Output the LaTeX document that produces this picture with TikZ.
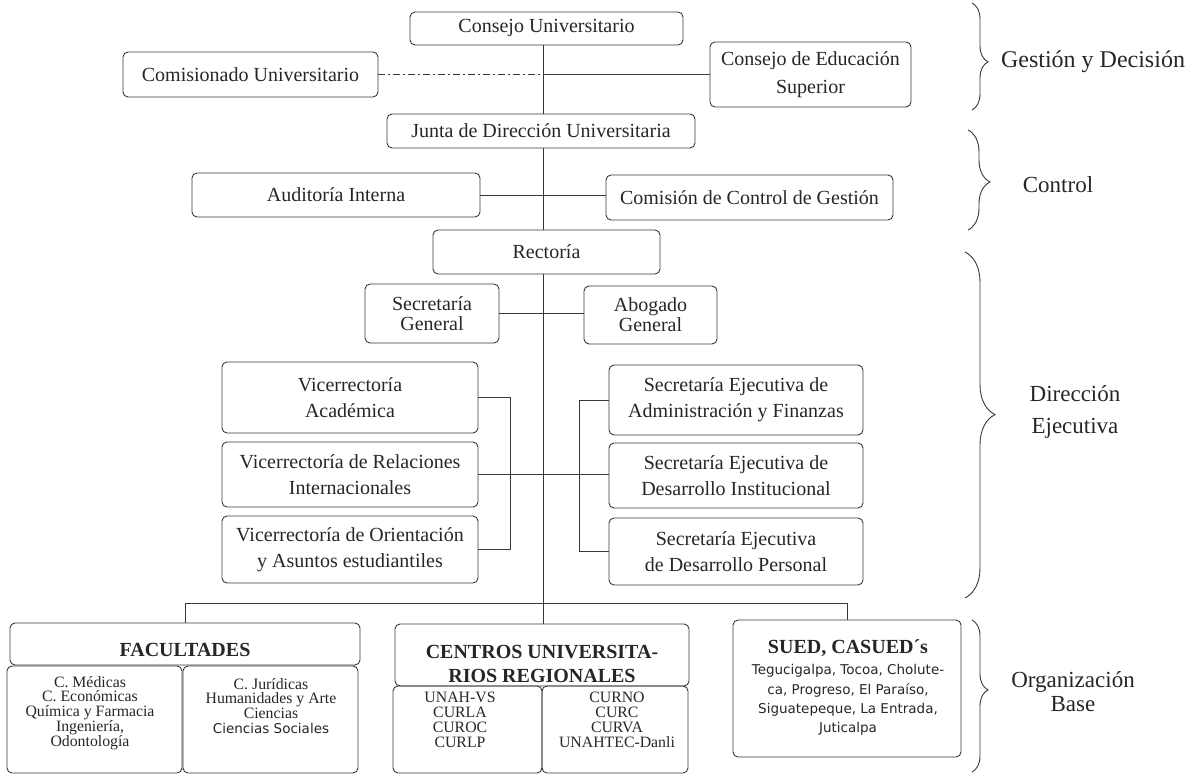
\documentclass[tikz,border=0pt]{standalone}
\usepackage{fontspec}
\setmainfont{Liberation Serif}
\newfontfamily\sansf{DejaVu Sans}
\usetikzlibrary{decorations.pathreplacing}
\definecolor{ink}{gray}{0.22}
\definecolor{txt}{gray}{0.15}
\begin{document}
\begin{tikzpicture}[x=1pt,y=-1pt,
  box/.style={draw=ink, line width=0.9pt, rounded corners=5pt, inner sep=0pt, align=center, text=txt, font=\fontsize{20}{26}\selectfont},
  conn/.style={draw=ink, line width=0.9pt},
  dashdot/.style={conn, dash pattern=on 7pt off 3pt on 2pt off 3pt},
  lbl/.style={text=txt, align=center, font=\fontsize{23}{30}\selectfont},
  brc/.style={draw=ink, line width=0.9pt, decorate},
  head/.style={text=txt, align=center, font=\bfseries\fontsize{20}{24}\selectfont},
  small/.style={text=txt, align=center, font=\fontsize{15.8}{14.8}\selectfont},
  sans/.style={text=txt, align=center, font=\sansf\fontsize{13.5}{19.3}\selectfont},
]
\useasboundingbox (0,0) rectangle (1195,775);

% ---- top level
\node[box, minimum width=273pt, minimum height=33pt] (cu) at (546.5,28.5) {Consejo Universitario};
\node[box, minimum width=255pt, minimum height=45pt] (com) at (250.5,74.5) {Comisionado Universitario};
\node[box, minimum width=201pt, minimum height=65pt, font=\fontsize{20}{28}\selectfont] (ces) at (810.5,74.5) {Consejo de Educación\\Superior};
\node[box, minimum width=308pt, minimum height=34pt] (jdu) at (541,131) {Junta de Dirección Universitaria};
\node[box, minimum width=288pt, minimum height=44pt] (aud) at (336,195) {Auditoría Interna};
\node[box, minimum width=287pt, minimum height=45pt] (ccg) at (749.5,197.5) {Comisión de Control de Gestión};
\node[box, minimum width=227pt, minimum height=44pt] (rec) at (546.5,252) {Rectoría};
\node[box, minimum width=134pt, minimum height=59pt, font=\fontsize{20}{20}\selectfont] (sg) at (432,313.5) {Secretaría\\General};
\node[box, minimum width=133pt, minimum height=58pt, font=\fontsize{20}{20}\selectfont] (ag) at (650.5,315) {Abogado\\General};

% ---- vicerrectorias
\node[box, minimum width=256pt, minimum height=71pt] (va) at (350,397.5) {Vicerrectoría\\Académica};
\node[box, minimum width=256pt, minimum height=65pt] (vri) at (350,474.5) {Vicerrectoría de Relaciones\\Internacionales};
\node[box, minimum width=256pt, minimum height=67pt] (vo) at (350,549.5) {Vicerrectoría de Orientación\\y Asuntos estudiantiles};
% ---- secretarias ejecutivas
\node[box, minimum width=254pt, minimum height=70pt] (sa) at (736,400) {Secretaría Ejecutiva de\\Administración y Finanzas};
\node[box, minimum width=254pt, minimum height=65pt] (sdi) at (736,475.5) {Secretaría Ejecutiva de\\Desarrollo Institucional};
\node[box, minimum width=254pt, minimum height=67pt] (sdp) at (736,551.5) {Secretaría Ejecutiva\\de Desarrollo Personal};

% ---- base organisation
\node[box, minimum width=350pt, minimum height=42pt] (fach) at (185,644) {};
\node[head] (facht) at (185,650) {FACULTADES};
\node[box, minimum width=175pt, minimum height=107pt] (fac1) at (94.5,719.5) {};
\node[box, minimum width=175pt, minimum height=107pt] (fac2) at (270.5,719.5) {};
\node[small] (fac1t) at (90,713) {C. Médicas\\C. Económicas\\Química y Farmacia\\Ingeniería,\\Odontología};
\node[small] (fac2t) at (271,706) {C. Jurídicas\\Humanidades y Arte\\Ciencias\\{\sansf\fontsize{13.5}{14.8}\selectfont Ciencias Sociales}};

\node[box, minimum width=294pt, minimum height=62pt] (cenh) at (542,655) {};
\node[head] (centt) at (542,664) {CENTROS UNIVERSITA-\\RIOS REGIONALES};
\node[box, minimum width=149pt, minimum height=87pt] (cen1) at (467.5,729.5) {};
\node[box, minimum width=146pt, minimum height=87pt] (cen2) at (615,729.5) {};
\node[small] (cen1t) at (460,720) {UNAH-VS\\CURLA\\CUROC\\CURLP};
\node[small] (cen2t) at (617,720) {CURNO\\CURC\\CURVA\\UNAHTEC-Danli};

\node[box, minimum width=228pt, minimum height=137pt] (sued) at (847,688.5) {};
\node[head] (suedt) at (848,648) {SUED, CASUED´s};
\node[sans] (suedl) at (848,700) {Tegucigalpa, Tocoa, Cholute-\\ca, Progreso, El Paraíso,\\Siguatepeque, La Entrada,\\Juticalpa};

% ---- connectors
\coordinate (spine) at (543,0);
\coordinate (bus) at (0,603);
\coordinate (lb) at (510,0);
\coordinate (rb) at (579,0);
\draw[conn] (spine |- cu.south) -- (spine |- jdu.north);
\draw[dashdot] (com.east) -- (spine |- com.east);
\draw[conn] (spine |- com.east) -- (ces.west);
\draw[conn] (spine |- jdu.south) -- (spine |- rec.north);
\draw[conn] (aud.east) -- (aud.east -| ccg.west);
\draw[conn] (spine |- rec.south) -- (spine |- cenh.north);
\draw[conn] (sg.east) -- (sg.east -| ag.west);
\draw[conn] (va.east) -- (lb |- va.east) -- (lb |- vo.east) -- (vo.east);
\draw[conn] (vri.east) -- (vri.east -| sdi.west);
\draw[conn] (sa.west) -- (rb |- sa.west) -- (rb |- sdp.west) -- (sdp.west);
\draw[conn] (fach.north) -- (fach.north |- bus) -- (sued.north |- bus) -- (sued.north);

% ---- braces and level labels
\draw[brc, decoration={brace, amplitude=16pt, aspect=0.55}] (972,3) -- (972,110);
\draw[brc, decoration={brace, amplitude=22pt, aspect=0.52}] (968,130) -- (968,230);
\draw[brc, decoration={brace, amplitude=30pt, aspect=0.47}] (965,252) -- (965,598);
\draw[brc, decoration={brace, amplitude=16pt, aspect=0.46}] (972,620) -- (972,772);
\node[lbl, font=\fontsize{24}{30}\selectfont] (lg) at (1093,62) {Gestión y Decisión};
\node[lbl] (lc) at (1058,185) {Control};
\node[lbl, font=\fontsize{23}{32}\selectfont] (ld) at (1075,412) {Dirección\\Ejecutiva};
\node[lbl, font=\fontsize{23}{24}\selectfont] (lo) at (1073,692) {Organización\\Base};
\end{tikzpicture}
\end{document}
